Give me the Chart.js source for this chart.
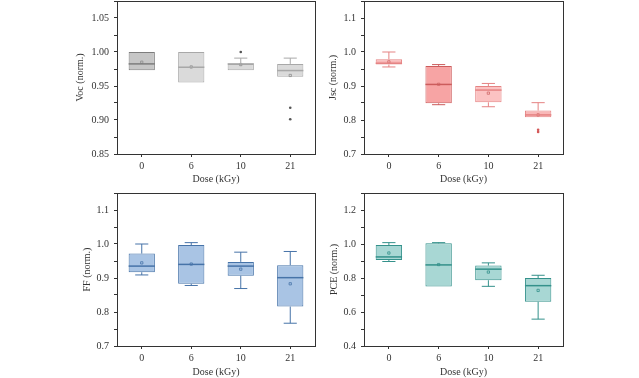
<!DOCTYPE html>
<html>
<head>
<meta charset="utf-8">
<script src="https://cdn.jsdelivr.net/npm/chart.js@4.4.0/dist/chart.umd.min.js"></script>
<style>
  html, body { margin: 0; padding: 0; background: #fff; }
  body { width: 639px; height: 378px; position: relative; overflow: hidden; }
  canvas { position: absolute; }
</style>
</head>
<body>
<canvas id="voc" width="320" height="190" style="left:0;top:0"></canvas>
<canvas id="jsc" width="319" height="190" style="left:320px;top:0"></canvas>
<canvas id="ff" width="320" height="188" style="left:0;top:190px"></canvas>
<canvas id="pce" width="319" height="188" style="left:320px;top:190px"></canvas>
<script>
const doses = ['0', '6', '10', '21'];

// Voc (norm.)
const vocMin  = [0.973, 0.955, 0.973, 0.9635];
const vocQ1   = [0.973, 0.955, 0.973, 0.9635];
const vocMed  = [0.9825, 0.9776, 0.9825, 0.9727];
const vocQ3   = [1.0, 1.0, 0.9825, 0.9825];
const vocMax  = [1.0, 1.0, 0.991, 0.991];
const vocMean = [0.985, 0.978, 0.9815, 0.9655];
const vocOut  = [{x: '10', y: 1.0}, {x: '21', y: 0.918}, {x: '21', y: 0.901}];

// Jsc (norm.)
const jscMin  = [0.956, 0.845, 0.839, 0.808];
const jscQ1   = [0.963, 0.849, 0.852, 0.808];
const jscMed  = [0.967, 0.9046, 0.888, 0.815];
const jscQ3   = [0.9786, 0.959, 0.90, 0.8277];
const jscMax  = [1.0, 0.963, 0.9075, 0.851];
const jscMean = [0.971, 0.905, 0.879, 0.815];
const jscOut  = [{x: '21', y: 0.771}, {x: '21', y: 0.765}];

// FF (norm.)
const ffMin  = [0.909, 0.878, 0.869, 0.767];
const ffQ1   = [0.917, 0.883, 0.9067, 0.816];
const ffMed  = [0.935, 0.940, 0.935, 0.901];
const ffQ3   = [0.9718, 0.997, 0.9474, 0.9377];
const ffMax  = [1.0, 1.004, 0.976, 0.978];
const ffMean = [0.9445, 0.941, 0.926, 0.883];

// PCE (norm.)
const pceMin  = [0.897, 0.75, 0.751, 0.558];
const pceQ1   = [0.906, 0.75, 0.787, 0.66];
const pceMed  = [0.924, 0.877, 0.852, 0.755];
const pceQ3   = [0.994, 1.004, 0.873, 0.80];
const pceMax  = [1.008, 1.008, 0.889, 0.816];
const pceMean = [0.947, 0.879, 0.835, 0.727];

const FONT = "'Liberation Serif', 'DejaVu Serif', serif";
const INK = '#333333';

// whiskers, caps and median line drawn with the chart's scales
const boxExtras = {
  id: 'boxExtras',
  afterDatasetsDraw(chart) {
    const ds = chart.data.datasets[0];
    const meta = chart.getDatasetMeta(0);
    const xs = chart.scales.x, ys = chart.scales.y;
    const ctx = chart.ctx;
    ctx.save();
    ds.lo.forEach((lo, i) => {
      const bar = meta.data[i];
      const x = xs.getPixelForValue(i);
      const half = bar.width / 2;
      const cap = half * 0.5;
      const col = Array.isArray(ds.borderColor) ? ds.borderColor[i] : ds.borderColor;
      ctx.strokeStyle = col;
      ctx.lineWidth = 1;
      const yq1 = ys.getPixelForValue(ds.data[i][0]);
      const yq3 = ys.getPixelForValue(ds.data[i][1]);
      const ylo = ys.getPixelForValue(lo);
      const yhi = ys.getPixelForValue(ds.hi[i]);
      const ymed = ys.getPixelForValue(ds.med[i]);
      ctx.beginPath();
      if (yhi < yq3 - 0.5) {
        ctx.moveTo(x, yq3); ctx.lineTo(x, yhi);
        ctx.moveTo(x - cap, yhi); ctx.lineTo(x + cap, yhi);
      }
      if (ylo > yq1 + 0.5) {
        ctx.moveTo(x, yq1); ctx.lineTo(x, ylo);
        ctx.moveTo(x - cap, ylo); ctx.lineTo(x + cap, ylo);
      }
      ctx.stroke();
      ctx.lineWidth = 1.5;
      ctx.beginPath();
      ctx.moveTo(x - half, ymed); ctx.lineTo(x + half, ymed);
      ctx.stroke();
    });
    // frame
    const a = chart.chartArea;
    ctx.strokeStyle = INK;
    ctx.lineWidth = 1;
    ctx.strokeRect(Math.round(a.left) + 0.5, Math.round(a.top) + 0.5,
      Math.round(a.right - a.left), Math.round(a.bottom - a.top));
    ctx.restore();
  }
};

function makePanel(id, cfg) {
  const datasets = [{
    type: 'bar',
    data: cfg.q1.map((v, i) => [v, cfg.q3[i]]),
    lo: cfg.min, hi: cfg.max, med: cfg.med,
    backgroundColor: cfg.fill,
    borderColor: cfg.stroke,
    borderWidth: 1,
    borderSkipped: false,
    barPercentage: 0.53,
    categoryPercentage: 1,
    order: 2
  }, {
    type: 'line',
    data: cfg.mean,
    showLine: false,
    pointStyle: 'rect',
    pointRadius: 1.6,
    pointBorderWidth: 0.8,
    pointBackgroundColor: 'rgba(0,0,0,0)',
    pointBorderColor: cfg.meanColor,
    order: 1
  }];
  if (cfg.out) {
    datasets.push({
      type: 'line',
      data: cfg.out,
      showLine: false,
      pointStyle: 'circle',
      pointRadius: 1.3,
      pointBorderWidth: 0,
      pointBackgroundColor: cfg.outColor,
      order: 0
    });
  }
  new Chart(document.getElementById(id), {
    type: 'bar',
    data: { labels: doses, datasets: datasets },
    plugins: [boxExtras],
    options: {
      responsive: false,
      animation: false,
      events: [],
      layout: { padding: cfg.pad, autoPadding: false },
      plugins: { legend: { display: false }, tooltip: { enabled: false } },
      scales: {
        x: {
          offset: true,
          grid: { display: true, drawOnChartArea: false, offset: false, drawTicks: true, tickLength: 3, color: INK },
          border: { display: true, color: INK },
          ticks: { color: INK, padding: 3, font: { family: FONT, size: 10 } },
          title: { display: true, text: 'Dose (kGy)', color: INK, padding: 0, font: { family: FONT, size: 10 } },
          afterFit: s => { s.height = cfg.xH; s.paddingLeft = 0; s.paddingRight = 0; }
        },
        y: {
          min: cfg.ymin, max: cfg.ymax,
          grid: { display: true, drawOnChartArea: false, drawTicks: true, tickLength: 3, color: INK },
          border: { display: true, color: INK },
          ticks: {
            stepSize: cfg.minor,
            color: INK, padding: 5,
            font: { family: FONT, size: 10 },
            callback: v => Math.round((v - cfg.ymin) / cfg.minor) % 2 === 0 ? v.toFixed(cfg.dec) : ''
          },
          title: { display: true, text: cfg.title, color: INK, padding: 0, font: { family: FONT, size: 10 } },
          afterFit: s => { s.width = cfg.yW; s.paddingTop = 0; s.paddingBottom = 0; }
        }
      }
    }
  });
}

makePanel('voc', {
  q1: vocQ1, q3: vocQ3, min: vocMin, max: vocMax, med: vocMed, mean: vocMean, out: vocOut,
  fill: ['#c6c6c6', '#dadada', '#dadada', '#dadada'],
  stroke: ['#7d7d7d', '#a8a8a8', '#a8a8a8', '#a8a8a8'],
  meanColor: '#8c8c8c', outColor: '#555555',
  ymin: 0.85, ymax: 1.075, minor: 0.025, dec: 2, title: 'Voc (norm.)',
  pad: { left: 74, top: 1, right: 5, bottom: 5 }, yW: 43, xH: 31
});

makePanel('jsc', {
  q1: jscQ1, q3: jscQ3, min: jscMin, max: jscMax, med: jscMed, mean: jscMean, out: jscOut,
  fill: ['#f9b8b8', '#f7a4a4', '#fbc2c2', '#f9b8b8'],
  stroke: ['#e58383', '#cc5c5c', '#e58383', '#e58383'],
  meanColor: '#d06a6a', outColor: '#d45858',
  ymin: 0.7, ymax: 1.15, minor: 0.05, dec: 1, title: 'Jsc (norm.)',
  pad: { left: 7, top: 1, right: 76, bottom: 5 }, yW: 37, xH: 31
});

makePanel('ff', {
  q1: ffQ1, q3: ffQ3, min: ffMin, max: ffMax, med: ffMed, mean: ffMean,
  fill: '#a9c4e4', stroke: '#4673a8',
  meanColor: '#4673a8',
  ymin: 0.7, ymax: 1.15, minor: 0.05, dec: 1, title: 'FF (norm.)',
  pad: { left: 81, top: 3, right: 5, bottom: 0 }, yW: 36, xH: 32
});

makePanel('pce', {
  q1: pceQ1, q3: pceQ3, min: pceMin, max: pceMax, med: pceMed, mean: pceMean,
  fill: '#a8d7d4', stroke: '#34918b',
  meanColor: '#34918b',
  ymin: 0.4, ymax: 1.3, minor: 0.1, dec: 1, title: 'PCE (norm.)',
  pad: { left: 8, top: 3, right: 76, bottom: 0 }, yW: 36, xH: 32
});
</script>
</body>
</html>
